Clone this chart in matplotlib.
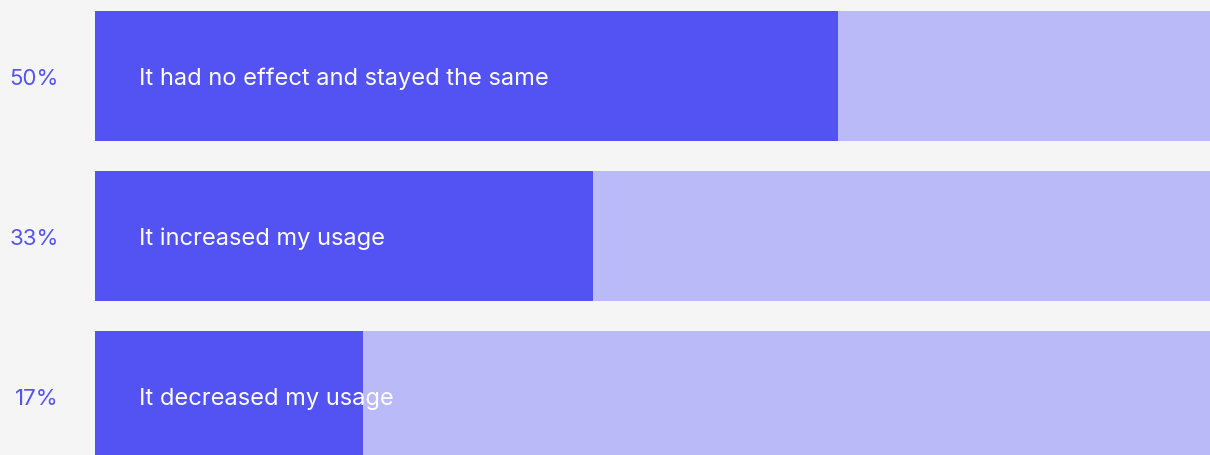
import matplotlib
matplotlib.use("Agg")
import matplotlib.pyplot as plt
from matplotlib.transforms import blended_transform_factory

# survey answers, top to bottom
answers = ["It had no effect and stayed the same",
           "It increased my usage",
           "It decreased my usage"]
pct_labels = ["50%", "33%", "17%"]
shares = [50, 33.5, 18]      # bar lengths as drawn
scale_max = 75

DARK = "#5353F3"
LIGHT = "#BBBAF8"
BG = "#F5F5F5"

plt.rcParams["font.family"] = ["Inter", "DejaVu Sans"]

fig = plt.figure(figsize=(12.10, 4.56), dpi=100, facecolor=BG)
ax = fig.add_axes([95 / 1210, 0, 1 - 95 / 1210, 1])
ax.set_facecolor(BG)

rows = list(range(len(answers)))
ax.barh(rows, [scale_max] * len(rows), height=0.8125, color=LIGHT, left=0)
ax.barh(rows, shares, height=0.8125, color=DARK, left=0)

for i, txt in enumerate(answers):
    ax.text(44 / 1115 * scale_max, i + 0.012, txt, color="white", fontsize=17,
            va="center", ha="left")

trans = blended_transform_factory(fig.transFigure, ax.transData)
for i, p in enumerate(pct_labels):
    ax.text(59 / 1210, i + 0.012, p, color=DARK, fontsize=16, va="center",
            ha="right", transform=trans)

ax.set_xlim(0, scale_max)
ax.set_ylim(2.369, -0.481)
ax.axis("off")

fig.savefig("out.png", dpi=100, facecolor=BG)
